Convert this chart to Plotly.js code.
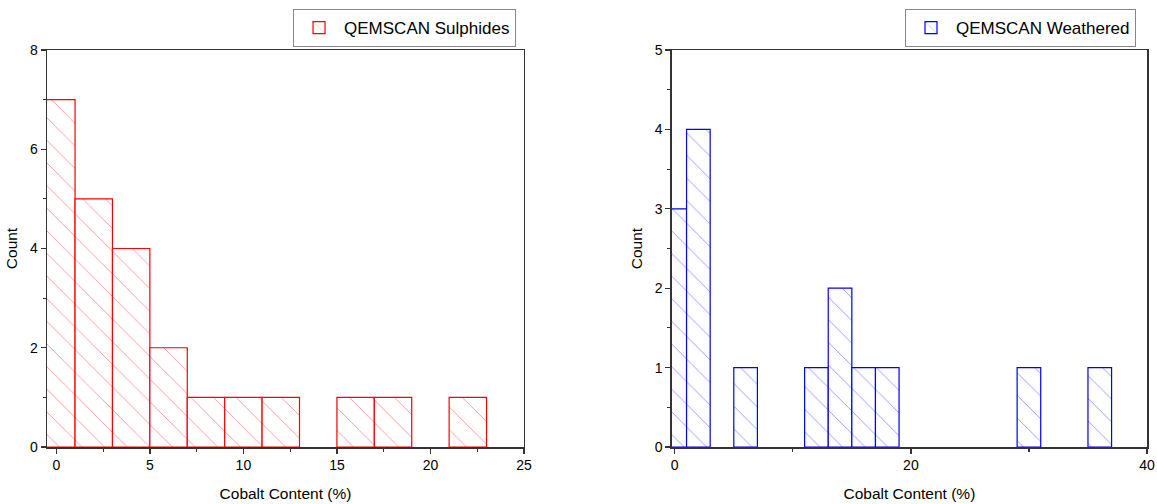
<!DOCTYPE html>
<html><head><meta charset="utf-8">
<script src="https://cdn.plot.ly/plotly-3.0.1.min.js"></script>
<style>html,body{margin:0;padding:0;background:#fff}#chart{width:1157px;height:504px}</style>
</head><body><div id="chart"></div>
<script>
// Left histogram: QEMSCAN Sulphides (bin width 2)
const sulphBinCenters = [0, 2, 4, 6, 8, 10, 12, 16, 18, 22];
const sulphCounts     = [7, 5, 4, 2, 1, 1, 1, 1, 1, 1];
// Right histogram: QEMSCAN Weathered (bin width 2)
const weathBinCenters = [0, 2, 6, 12, 14, 16, 18, 30, 36];
const weathCounts     = [3, 4, 1, 1, 2, 1, 1, 1, 1];
const binWidth = 2;
const seriesNames = ['QEMSCAN Sulphides', 'QEMSCAN Weathered'];
const xTitle = 'Cobalt Content (%)';
const yTitle = 'Count';

const font = 'Liberation Sans, Arial, sans-serif';
function bar(x, y, name, col, light, xa, ya, lg) {
  return {
    type: 'bar', x: x, y: y, name: name, xaxis: xa, yaxis: ya, legend: lg,
    width: x.map(() => binWidth),
    marker: {
      color: '#ffffff',
      line: {color: col, width: 1.2},
      pattern: {shape: '\\', fgcolor: light, bgcolor: '#ffffff', size: 16, solidity: 0.055, fillmode: 'replace'}
    },
    showlegend: true, hoverinfo: 'x+y'
  };
}
const traces = [
  bar(sulphBinCenters, sulphCounts, seriesNames[0], '#ff0000', '#ff9090', 'x', 'y', 'legend'),
  bar(weathBinCenters, weathCounts, seriesNames[1], '#0000ff', '#9090ff', 'x2', 'y2', 'legend2')
];
const minorBase = {ticks: 'outside', ticklen: 3, tickwidth: 1.2, tickcolor: '#333', showgrid: false};
function ax(extra) {
  return Object.assign({
    showline: true, mirror: true, linecolor: '#333', linewidth: 1.5,
    ticks: 'outside', ticklen: 5, tickwidth: 1.3, tickcolor: '#333',
    showgrid: false, zeroline: false,
    tickfont: {family: font, size: 14, color: '#000'}
  }, extra);
}
const titleFont = {family: font, size: 15.5, color: '#000'};
const layout = {
  width: 1157, height: 504,
  margin: {l: 47, r: 10, t: 49, b: 57},
  paper_bgcolor: '#fff', plot_bgcolor: '#fff',
  bargap: 0,
  font: {family: font, color: '#000'},
  xaxis: ax({domain: [0, 0.4336], range: [-0.5, 25], dtick: 5, tick0: 0, minor: Object.assign({dtick: 2.5, tick0: 0}, minorBase),
    title: {text: xTitle, font: titleFont, standoff: 16}, anchor: 'y'}),
  yaxis: ax({domain: [0, 1], range: [0, 8], dtick: 2, tick0: 0, minor: Object.assign({dtick: 1, tick0: 0}, minorBase),
    title: {text: yTitle, font: titleFont, standoff: 8}, anchor: 'x'}),
  xaxis2: ax({domain: [0.568, 1], range: [-0.25, 40], dtick: 20, tick0: 0, minor: Object.assign({dtick: 10, tick0: 0}, minorBase),
    title: {text: xTitle, font: titleFont, standoff: 16}, anchor: 'y2'}),
  yaxis2: ax({domain: [0, 1], range: [0, 5], dtick: 1, tick0: 0, minor: Object.assign({dtick: 0.5, tick0: 0}, minorBase),
    title: {text: yTitle, font: titleFont, standoff: 8}, anchor: 'x2'}),
  legend: {x: 0.4264, xanchor: 'right', y: 1.1005, yanchor: 'top', bgcolor: '#fff', bordercolor: '#888', borderwidth: 1,
    font: {family: font, size: 17}, itemwidth: 40},
  legend2: {x: 0.9900, xanchor: 'right', y: 1.1005, yanchor: 'top', bgcolor: '#fff', bordercolor: '#888', borderwidth: 1,
    font: {family: font, size: 17}, itemwidth: 40}
};
Plotly.newPlot('chart', traces, layout, {displayModeBar: false, staticPlot: true});
</script></body></html>
